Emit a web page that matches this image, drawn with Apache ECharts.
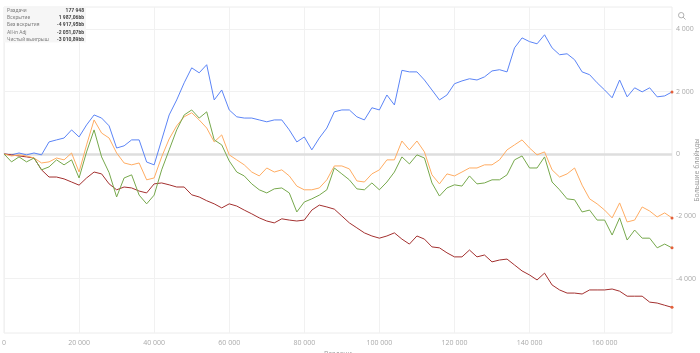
<!DOCTYPE html>
<html>
<head>
<meta charset="utf-8">
<script src="https://cdn.jsdelivr.net/npm/echarts@6/dist/echarts.min.js"></script>
<style>
  html, body { margin: 0; padding: 0; background: #fff; }
  #chart { width: 700px; height: 353px; }
</style>
</head>
<body>
<div id="chart"></div>
<script>
// раздачи (ось X)
const hands = [0, 2000, 4000, 6000, 8000, 10000, 12000, 14000, 16000, 18000,
  20000, 22000, 24000, 26000, 28000, 30000, 32000, 34000, 36000, 38000,
  40000, 42000, 44000, 46000, 48000, 50000, 52000, 54000, 56000, 58000,
  60000, 62000, 64000, 66000, 68000, 70000, 72000, 74000, 76000, 78000,
  80000, 82000, 84000, 86000, 88000, 90000, 92000, 94000, 96000, 98000,
  100000, 102000, 104000, 106000, 108000, 110000, 112000, 114000, 116000, 118000,
  120000, 122000, 124000, 126000, 128000, 130000, 132000, 134000, 136000, 138000,
  140000, 142000, 144000, 146000, 148000, 150000, 152000, 154000, 156000, 158000,
  160000, 162000, 164000, 166000, 168000, 170000, 172000, 174000, 176000, 177948];

// Вскрытие
const showdown = [0, -30, 30, -30, 30, -30, 385, 450, 510, 770,
  545, 930, 1250, 1150, 900, 190, 260, 450, 450, -260,
  -350, 450, 1250, 1730, 2280, 2760, 2600, 2860, 1730, 2050,
  1410, 1190, 1150, 1150, 1090, 1030, 1090, 1090, 770, 385,
  545, 130, 510, 830, 1350, 1410, 1410, 1190, 1090, 1480,
  1410, 1890, 1570, 2680, 2630, 2630, 2370, 2050, 1730, 1890,
  2250, 2340, 2410, 2370, 2470, 2660, 2700, 2630, 3400, 3720,
  3600, 3530, 3820, 3400, 3180, 3210, 3020, 2630, 2540, 2280,
  2050, 1800, 2370, 1830, 2120, 1990, 2120, 1830, 1860, 1987];

// Без вскрытия
const nonShowdown = [0, -30, -65, -95, -130, -510, -740, -740, -800, -900,
  -1000, -770, -580, -640, -960, -1150, -1060, -1090, -1190, -1250,
  -960, -930, -990, -1060, -1060, -1310, -1380, -1500, -1600, -1730,
  -1600, -1670, -1800, -1920, -2050, -2150, -2210, -2080, -2120, -2150,
  -2120, -1800, -1640, -1700, -1770, -1990, -2210, -2370, -2530, -2630,
  -2700, -2630, -2530, -2730, -2890, -2630, -2730, -2980, -3010, -3170,
  -3300, -3300, -3080, -3300, -3240, -3460, -3400, -3370, -3560, -3750,
  -3880, -4040, -3820, -4200, -4360, -4460, -4460, -4490, -4360, -4360,
  -4360, -4330, -4400, -4560, -4560, -4560, -4750, -4780, -4850, -4918];

// All-in Adj
const allinAdj = [0, -65, -30, -65, -130, -290, -255, -130, -190, 30,
  -580, 290, 1090, 670, 510, 30, -290, -350, -290, -830,
  -770, -95, 480, 900, 1190, 1320, 1090, 830, 385, 610,
  -30, -190, -350, -580, -705, -450, -580, -510, -705, -1030,
  -1150, -1150, -1090, -830, -385, -385, -480, -865, -900, -640,
  -510, -190, -190, 415, 130, 415, 65, -670, -960, -640,
  -705, -580, -450, -450, -350, -350, -190, 130, 290, 450,
  190, -30, 65, -510, -740, -640, -450, -1000, -1440, -1600,
  -1800, -2050, -1570, -2180, -2120, -1700, -1830, -2020, -1890, -2051];

// Чистый выигрыш
const netWon = [0, -255, -95, -255, -130, -510, -415, -190, -350, -190,
  -770, 65, 770, -95, -600, -1380, -770, -670, -1320, -1600,
  -1320, -510, 130, 770, 1250, 1410, 1150, 1350, 450, 290,
  -225, -580, -705, -960, -1150, -1250, -1120, -1090, -1250, -1860,
  -1540, -1440, -1320, -1150, -450, -640, -830, -1120, -1150, -930,
  -1150, -900, -580, -95, -320, -30, -130, -930, -1350, -1090,
  -990, -1030, -705, -960, -930, -830, -830, -670, -190, -65,
  -450, -450, -95, -900, -1150, -1440, -1470, -1860, -1800, -2120,
  -2120, -2600, -2050, -2760, -2440, -2700, -2700, -3010, -2890, -3011];

const xTicks = [0, 20000, 40000, 60000, 80000, 100000, 120000, 140000, 160000];
const yTicks = [-4000, -2000, 0, 2000, 4000];

const seriesNames = ['Вскрытие', 'Без вскрытия', 'All-in Adj', 'Чистый выигрыш'];
const seriesColors = ['#5b84f6', '#a3302f', '#ffac62', '#76a84c'];

const statLabels = ['Раздачи', 'Вскрытие', 'Без вскрытия', 'All-in Adj', 'Чистый выигрыш'];
const statValues = ['177 948', '1 987,06bb', '-4 917,95bb', '-2 051,07bb', '-3 010,89bb'];

const FONT = '"Open Sans", "Noto Sans", sans-serif';
const SMALL = 'Roboto, "Liberation Sans", sans-serif';
const fmt = v => String(v).replace(/\B(?=(\d{3})+(?!\d))/g, ' ');

const chart = echarts.init(document.getElementById('chart'));

function makeSeries(name, values, color, idx) {
  const last = values.length - 1;
  const s = {
    name: name,
    type: 'line',
    z: 3 + idx,
    symbol: 'none',
    showSymbol: true,
    showAllSymbol: true,
    animation: false,
    lineStyle: { color: color, width: 1 },
    itemStyle: { color: color },
    data: values.map((v, i) => i === last
      ? { value: [hands[i], v], symbol: 'circle', symbolSize: 3, itemStyle: { color: '#e4603a' } }
      : [hands[i], v])
  };
  if (idx === 0) {
    // жирная линия нуля, под графиками
    s.markLine = {
      silent: true,
      symbol: 'none',
      z: 1,
      label: { show: false },
      lineStyle: { color: '#dedede', width: 2.5, type: 'solid' },
      data: [{ yAxis: 0 }]
    };
  }
  return s;
}

// табличка со сводкой в левом верхнем углу
const rowH = 7.3;
const statGraphics = [{
  type: 'rect',
  left: 4, top: 7,
  shape: { width: 82, height: 35.5 },
  style: { fill: 'rgba(246,246,246,0.95)' },
  z: 100
}];
statLabels.forEach((label, i) => {
  statGraphics.push({
    type: 'text', left: 7, top: 8 + i * rowH, z: 101,
    style: { text: label, fill: '#808080', font: '5px ' + SMALL }
  });
  statGraphics.push({
    type: 'text', right: 700 - 84, top: 8 + i * rowH, z: 101,
    style: { text: statValues[i], fill: '#444', font: 'bold 5px ' + SMALL, textAlign: 'right' }
  });
});

const option = {
  animation: false,
  textStyle: { fontFamily: FONT },
  grid: {
    left: 4, right: 28, top: 7, bottom: 20,
    containLabel: false,
    outerBoundsMode: 'none',
    show: true, borderColor: '#ececec', borderWidth: 1
  },
  toolbox: {
    right: -3, top: -5, itemSize: 7,
    iconStyle: { borderColor: '#b0b0b0', borderWidth: 1 },
    feature: {
      myZoom: {
        show: true, title: '',
        icon: 'path://M5,0A5,5,0,1,1,5,10A5,5,0,1,1,5,0ZM8.6,8.6L13,13',
        onclick: function () {}
      }
    }
  },
  xAxis: {
    type: 'value',
    min: 0, max: 177948,
    name: 'Раздачи',
    nameLocation: 'middle',
    nameGap: 17,
    nameMoveOverlap: false,
    nameTextStyle: { fontSize: 7, color: '#999', fontFamily: FONT },
    axisLine: { show: false },
    axisTick: { show: false, customValues: xTicks },
    axisLabel: { customValues: xTicks, fontSize: 7, color: '#aaa', margin: 6, formatter: fmt },
    splitLine: { show: true, lineStyle: { color: '#f1f1f1', width: 1 } }
  },
  yAxis: {
    type: 'value',
    position: 'right',
    min: -5740, max: 4710,
    name: 'Большие блайнды',
    nameLocation: 'middle',
    nameGap: 21,
    nameMoveOverlap: false,
    nameTextStyle: { fontSize: 7, color: '#999', fontFamily: FONT },
    axisLine: { show: false },
    axisTick: { show: false, customValues: yTicks },
    axisLabel: { customValues: yTicks, fontSize: 7, color: '#aaa', margin: 4, formatter: fmt },
    splitLine: { show: true, lineStyle: { color: '#f1f1f1', width: 1 } }
  },
  graphic: statGraphics,
  series: [
    makeSeries(seriesNames[0], showdown, seriesColors[0], 0),
    makeSeries(seriesNames[1], nonShowdown, seriesColors[1], 1),
    makeSeries(seriesNames[2], allinAdj, seriesColors[2], 2),
    makeSeries(seriesNames[3], netWon, seriesColors[3], 3)
  ]
};

chart.setOption(option);
</script>
</body>
</html>
